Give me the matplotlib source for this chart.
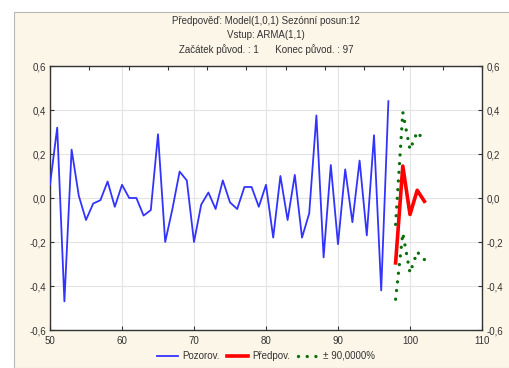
import matplotlib
matplotlib.use("Agg")
import matplotlib.pyplot as plt
from matplotlib.lines import Line2D
from matplotlib.patches import Rectangle
from matplotlib.ticker import FuncFormatter

plt.rcParams['font.family'] = ['Liberation Sans', 'DejaVu Sans']

# Observed series (x = 50..97)
obs_x = list(range(50, 98))
obs_y = [0.06, 0.32, -0.47, 0.22, 0.01, -0.10, -0.025, -0.01, 0.075, -0.04,
         0.06, 0.0, 0.0, -0.08, -0.055, 0.29, -0.20, -0.05, 0.12, 0.08,
         -0.20, -0.03, 0.025, -0.05, 0.08, -0.02, -0.05, 0.05, 0.05, -0.04,
         0.06, -0.18, 0.10, -0.10, 0.105, -0.18, -0.07, 0.375, -0.27, 0.15,
         -0.21, 0.13, -0.11, 0.17, -0.17, 0.285, -0.42, 0.44]

# Forecast
fc_x = [98, 99, 100, 101, 102]
fc_y = [-0.295, 0.145, -0.075, 0.035, -0.015]
fc_upper = [-0.12, 0.39, 0.22, 0.30, 0.26]
fc_lower = [-0.46, -0.16, -0.34, -0.245, -0.28]

title_lines = ["Předpověď: Model(1,0,1) Sezónní posun:12",
               "Vstup: ARMA(1,1)",
               "Začátek původ. : 1      Konec původ. : 97"]
legend_labels = ["Pozorov.", "Předpov.", "± 90,0000%"]

W, H = 510, 368
fig = plt.figure(figsize=(W / 100, H / 100), dpi=100)
cream = '#fcf6e9'
fig.patches.append(Rectangle((14 / W, 0), 1, 1 - 12 / H, transform=fig.transFigure,
                             facecolor=cream, edgecolor='#b8b8b8', linewidth=0.8, zorder=-10))

ax = fig.add_axes([50 / W, 1 - 330 / H, (482 - 50) / W, (330 - 66) / H])
ax.set_facecolor('white')

ax.plot(obs_x, obs_y, color='#3333ff', lw=1.3, zorder=3)
ax.plot(fc_x, fc_y, color='#ff0000', lw=2.6, zorder=4)
dot_style = dict(color='#0a6e0a', lw=2.4, linestyle=(0, (0.01, 2.6)),
                 dash_capstyle='round', zorder=5)
ax.plot(fc_x, fc_upper, **dot_style)
ax.plot(fc_x, fc_lower, **dot_style)

ax.set_xlim(50, 110)
ax.set_ylim(-0.6, 0.6)
ax.set_xticks(range(50, 111, 10))
ax.set_yticks([-0.6, -0.4, -0.2, 0.0, 0.2, 0.4, 0.6])

def comma(v, pos):
    s = f"{v:.1f}"
    if s == "-0.0":
        s = "0.0"
    return s.replace('.', ',')

def intfmt(v, pos):
    return f"{int(round(v))}"

ax.yaxis.set_major_formatter(FuncFormatter(comma))
ax.xaxis.set_major_formatter(FuncFormatter(intfmt))
ax.grid(True, color='#e4e4e4', lw=0.8, zorder=0)
ax.tick_params(axis='both', direction='in', length=3, width=0.8, labelsize=7,
               labelcolor='#333333', color='#333333', pad=3)
ax.tick_params(axis='y', right=True, labelright=True)
ax.tick_params(axis='x', pad=4)
for sp in ax.spines.values():
    sp.set_color('#333333')
    sp.set_linewidth(1.0)

sec = ax.secondary_xaxis('top')
sec.set_xticks([50 + k * 60 / 11 for k in range(12)])
sec.tick_params(direction='in', length=3, width=0.8, labeltop=False, color='#333333')
sec.spines['top'].set_visible(False)

ys = [1 - 21 / H, 1 - 35 / H, 1 - 50 / H]
cx = (50 + 482) / 2 / W
for t, y in zip(title_lines, ys):
    fig.text(cx, y, t, ha='center', va='center', fontsize=7, color='#333333')

handles = [Line2D([], [], color='#3333ff', lw=1.3),
           Line2D([], [], color='#ff0000', lw=2.6),
           Line2D([], [], **dot_style)]
fig.legend(handles, legend_labels, loc='center', bbox_to_anchor=(cx, 1 - 356 / H),
           ncol=3, frameon=False, fontsize=7, handlelength=2.2, handletextpad=0.4,
           columnspacing=0.8, labelcolor='#333333')

fig.savefig('out.png', dpi=100, facecolor='white')
